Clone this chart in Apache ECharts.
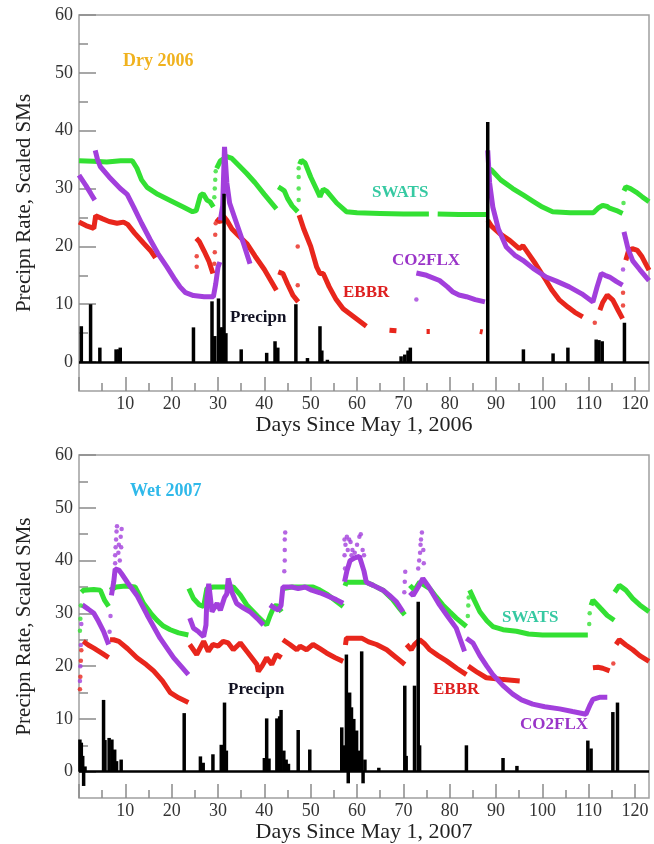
<!DOCTYPE html>
<html>
<head>
<meta charset="utf-8">
<script src="https://cdn.jsdelivr.net/npm/echarts/dist/echarts.min.js"></script>
<style>
html,body{margin:0;padding:0;background:#fff;}
#chart{width:654px;height:844px;}
</style>
</head>
<body>
<div id="chart"></div>
<script>
// ---------- tick labels ----------
const xMajorTicks = [0,10,20,30,40,50,60,70,80,90,100,110,120];
const xLabelTicks = [10,20,30,40,50,60,70,80,90,100,110,120];
const xMinorTicks = [5,15,25,35,45,55,65,75,85,95,105,115];
const yMajorTicks = [0,10,20,30,40,50,60];
const yMinorTicks = [5,15,25,35,45,55];

// ---------- Dry 2006 ----------
const drySWATS = [
  [[0,34.8],[3,34.7],[6,34.6],[9,34.8],[11.5,34.8],[12.5,33.5],[13.5,31.5],[14.7,30.2],[17,29.0],[20,27.8],[22.5,26.8],[24.5,26.0],[25.3,26.2],[26.2,28.8],[26.8,29.1],[27.6,28.0],[28.3,27.7],[29,26.8]],
  [[29.7,33.5],[30.5,34.8],[31.9,35.5],[33,35.2],[34.5,34],[36.2,32.6],[38,31],[40,29],[42.6,26.5]],
  [[43,30.3],[43.6,30.0],[44.3,29.6],[45,28.3],[46,27],[47.2,26.0]],
  [[47.6,34.2],[48.0,34.9],[48.8,34.4],[50,32],[51.3,29.8],[52,28.6],[52.7,29.9],[53.5,29.5],[55.6,27.5],[57.7,26.0],[60,25.8],[65,25.7],[70,25.6],[75.5,25.6]],
  [[77.4,25.6],[82,25.5],[88,25.5]],
  [[88.3,33.5],[89,33.2],[91,31.5],[93.6,30.0],[96,28.8],[98,27.8],[100,26.8],[102.2,26.0],[106,25.8],[111,25.8],[112,26.6],[113,27.1],[114,26.9],[114.5,26.6],[116,26.2],[117.3,25.7]],
  [[117.6,29.6],[118,30.3],[119,30.0],[120.2,29.4],[121.5,28.6],[123,27.7]]
];
const drySWATSDots = [[29.2,28.5],[29.3,30],[29.4,31.5],[29.5,33],[47.4,28],[47.4,30],[47.4,32],[47.4,33.5],[117.5,27.5]];

const dryEBBR = [
  [[0,24.2],[1.5,23.6],[3.2,23.1],[3.6,25.3],[5,24.8],[6.5,24.3],[8.2,24.0],[9.6,24.2],[10.5,23.8],[12,22.3],[14,20.5],[15.4,19.3],[16.5,18.0]],
  [[25.3,21.4],[26,20.8],[27,19.2],[28,17.5],[28.9,15.3]],
  [[29.6,24.8],[30.5,24.2],[31.2,25.2],[31.9,24.5],[33,23],[34.5,21.8],[36.2,20.5],[38,18.3],[40,16],[42.6,12.4]],
  [[43,15.6],[44,15.3],[45,13.5],[46.2,11.5],[47.3,10.4]],
  [[47.5,25.4],[48.5,23],[50,20],[51.3,16.4],[52,15.3],[52.7,15.3],[54,13],[55.5,10.8],[57,9.2],[59,8.0],[61,6.8],[62,6.2]],
  [[67,5.5],[68.5,5.4]],
  [[75,5.3],[75.7,5.3]],
  [[86.5,5.3],[87.1,5.2]],
  [[88.2,24.5],[89,23.5],[90.8,22.2],[93,21],[95,19.6],[95.8,20.1],[96.5,19.3],[98.5,17],[100.8,14.1],[102,12.5],[103.7,10.7],[105.5,9.5],[107,8.6],[108.7,7.8]],
  [[112.4,9.0],[113,10.3],[114,11.6],[115.2,10.7],[116.3,9],[117.3,7.5]],
  [[118,17.6],[118.6,19.3],[119.4,19.6],[120.5,19.3],[121.5,18.2],[123,15.9]]
];
const dryEBBRDots = [[25.4,18.3],[25.4,16.5],[29.2,17],[29.3,19],[29.4,22],[29.5,24],[47.2,13.3],[47.2,20.0],[111.3,6.8],[117.4,9.8],[117.4,12]];

const dryCO2 = [
  [[0,32.3],[1.5,30.5],[2.5,29.2],[3.4,28.0]],
  [[3.5,36.6],[4.0,35],[4.6,33.8],[6.5,32],[8.9,30.0],[10.4,29.0],[11.8,26.8],[13.5,24],[15.4,21.1],[17,18.8],[19,16.4],[20.5,14.5],[21.8,13.0],[23,12.0],[24.7,11.5],[27,11.3],[29,11.3],[29.5,13.5],[30,16.4],[30.4,17.3]],
  [[30.5,24.5],[31,27],[31.4,37.2],[31.9,31],[32.5,27.5],[34,24.0],[35.5,20.5],[36.9,17.0]],
  [[72.8,15.4],[75,15.0],[77.8,14.1],[79.5,13],[80.7,12.1],[82,11.6],[83.6,11.3],[85.5,10.8],[87.6,10.4]],
  [[88.2,36.6],[88.6,31],[89.3,26.8],[90.5,23],[92.2,19.9],[94,18.5],[95.8,17.6],[98,16.2],[100.8,14.7],[103,14],[105.8,13.0],[108.5,11.8],[110.9,10.4],[111.8,13],[112.7,15.3],[113.5,15],[114.5,14.7],[116,13.9],[117.3,13.3]],
  [[117.6,22.5],[118.5,19.5],[119.5,17.5],[121,16],[123,14.1]]
];
const dryCO2Dots = [[72.8,10.8],[117.4,16]];

const dryPrecip = [[0.5,6.2],[2.5,10],[4.5,2.5],[8,2.2],[8.6,2.2],[8.9,2.5],[24.7,6.0],[28.7,10.5],[29.3,4.5],[30.1,11],[30.6,6],[30.9,6],[31.3,29.1],[31.7,5],[35,2.2],[40.5,1.6],[42.3,3.6],[42.9,2.5],[46.8,10.0],[49.3,0.7],[52,6.2],[52.4,2],[53.6,0.4],[69.5,1.0],[70.3,1.3],[71,2.0],[71.5,2.5],[88.2,41.5],[95.9,2.2],[102.3,1.5],[105.5,2.5],[111.6,3.9],[112.2,3.8],[112.9,3.6],[117.7,6.8]];

// ---------- Wet 2007 ----------
const wetSWATS = [
  [[0.5,34.0],[1,34.4],[3.2,34.5],[4.6,34.4],[5.5,32.5],[6.4,31.3]],
  [[6.7,34.4],[8,35],[10,35.2],[12.1,35.0],[13.0,33.5],[13.9,31.9],[15.5,30.0],[16.8,28.7],[18.2,27.6],[19.7,26.9],[21.5,26.3],[23.6,25.9]],
  [[23.7,34.7],[24.7,32.8],[26,31.6],[26.9,31.3],[27.6,34.7],[29,35],[31,35],[33.3,35.0],[34.8,33.5],[36.2,31.6],[38.5,29.5],[40.5,27.8],[41.2,29.5],[41.9,30.9],[42.6,31.6],[43.7,30.3]],
  [[44,34.7],[46,35],[48,35],[50.5,35.0],[52,34.4],[53.4,33.7],[55.5,32.3],[57,31.3]],
  [[57.4,35.2],[57.7,35.9],[60,35.9],[62,35.9],[63.5,35.3],[65.6,34.4],[67.5,32.8],[69.2,30.9],[70.3,29.7]],
  [[71.4,35.3],[72.4,34.4],[73.5,35.9],[75.7,34.7],[77,33.2],[78.5,31.6],[80,30.3],[81.4,29.1],[83.6,27.5]],
  [[84.3,34.4],[85.3,32.5],[86.5,30.3],[88,28.6],[89.3,27.5],[91.5,26.9],[94.4,26.6],[97,26.1],[100,25.9],[105,25.9],[109.8,25.9]],
  [[110.5,31.5],[110.9,32.5],[112.5,31],[114,29.6],[115.5,28.7]],
  [[115.6,34.0],[116.6,35.3],[118,34.4],[119.5,32.8],[121,31.6],[123,30.3]]
];
const wetSWATSDots = [[0.2,26.7],[0.3,29],[0.4,31.5],[83.9,29.5],[84,31.5],[84.1,33],[110.1,28],[110.2,30]];

const wetEBBR = [
  [[0.9,24.7],[2,24],[3.2,23.4],[5,22.4],[6.4,21.6]],
  [[6.7,25.0],[7.5,25],[8.6,24.7],[10.5,23.3],[12.5,21.6],[14.5,20.3],[16.1,19.1],[18,17.2],[19.7,15.0],[21.5,14],[23.6,13.1]],
  [[23.9,24.1],[25.4,22.2],[26.9,24.7],[27.9,22.8],[28.9,24.1],[30,23.8],[31.1,24.7],[32.2,24.4],[33.3,23.1],[34.8,24.4],[36.5,22.5],[38.4,20.3],[38.7,19.0],[39.5,20],[40.5,21.6],[41.6,20.3],[42.6,22.2],[43.7,21.6]],
  [[44,25.0],[45.5,24.1],[47,23.1],[47.7,23.8],[49.1,23.1],[50.5,24.1],[52,23.3],[53.4,22.5],[55.3,21.6],[57,20.9]],
  [[57.5,24],[57.7,25.3],[59,25.3],[61,25.3],[62.5,24.6],[64.2,24.1],[66.4,23.1],[68.5,21.6],[70.3,20.3]],
  [[70.7,24.1],[71.7,23.1],[72.4,24.1],[73.5,25.0],[74.5,24.3],[75.7,23.1],[77.5,22],[79.3,21.0],[81.5,19.6],[83.6,18.4]],
  [[84.0,20.0],[86,18.8],[87.9,17.8],[91,17.5],[95.1,17.2]],
  [[110.9,19.7],[112,19.8],[113,19.6],[114.5,19.1]],
  [[115.9,24.1],[116.6,25.0],[118,24.0],[119.5,23.1],[121,22],[123,20.9]]
];
const wetEBBRDots = [[0.2,15.6],[0.3,18],[0.4,21],[0.5,23],[115.3,20.5]];

const wetCO2 = [
  [[0.7,31.6],[2,30.8],[3.2,30.0],[4.2,28.5],[5.3,26.6],[6.4,24.1]],
  [[7.0,33.4],[7.5,36],[7.8,38.4],[8.6,38.2],[9.2,37.5],[10.5,35.8],[12.5,33.4],[14.7,29.7],[17.5,25.3],[20.4,21.6],[22,20],[23.6,18.4]],
  [[23.9,29.1],[24.7,27.2],[25.8,26.5],[26.9,25.6],[27.4,27.8],[27.6,33],[28,35.6],[28.7,30.3],[29.8,31.9],[30.5,30.6],[31.4,33],[31.9,33.7],[32.2,36.6],[33,34],[34,31.9],[35.5,31],[36.9,30.3],[38.5,29],[39.8,27.8]],
  [[41.2,31.6],[42.2,31],[43,30.6],[43.6,31.5],[44,35.0],[45.9,35.0],[47.3,34.7],[48.8,35],[50.2,34.4],[52,33.9],[53.4,33.4],[55.5,32.6],[57,31.9]],
  [[57.3,36],[57.8,38],[58.5,40],[59.5,40.5],[60.5,40.8],[61.5,38],[62,35.9],[63.5,35.3],[65.6,34.4],[67,33.4],[68.5,32.2],[69.9,30.3]],
  [[71.4,34],[72.1,33.4],[73.2,35],[74.2,36.6],[75.5,35],[77.8,31.6],[79.5,29.5],[81.4,27.2],[82.3,25],[83.2,22.8]],
  [[83.6,25.3],[85,24.4],[86.5,22],[88,20],[89.3,18.4],[91.5,16.3],[93.6,14.7],[95.5,13.6],[97.9,12.8],[100.5,12.3],[103.7,11.9],[106.5,11.4],[109.4,10.9],[110.2,12.5],[110.9,13.7],[112.3,14.1],[114,14.1]]
];
const wetCO2Dots = [[0.2,17.2],[0.3,20],[0.4,24],[0.5,28],[6.6,26.5],[6.8,29.5],
  [7.8,39.5],[7.8,41],[7.9,42.5],[8.0,44],[8.1,45.5],[8.2,46.5],[8.5,41.5],[8.6,43],[8.8,40],[9.0,44.5],[9.1,42.5],[9.2,46],
  [44.3,38],[44.4,40],[44.4,42],[44.4,44],[44.5,45.3],
  [57.3,44],[57.3,41],[57.4,38.5],[57.5,43],[57.8,44.5],[58,42],[58.3,44],[58.6,43.5],[58.8,41],[59,42],[59.5,41.5],[60,43],[60.5,44.5],[60.8,45],[61.2,42],[61.5,41],
  [70.2,34],[70.3,36],[70.4,37.9],
  [73.2,38.5],[73.4,40],[73.6,41.5],[73.7,43],[73.8,44],[74,45.3],[74.3,42],[74.4,39.5]];

const wetPrecip = [[0.2,6.1],[0.5,5.5],[0.8,3],[1.0,-2.7],[1.3,1],[5.3,13.6],[5.6,6],[6.5,6.4],[7.1,6.1],[7.7,4.2],[8.1,2],[9.1,2.3],[22.7,11.1],[26.2,2.9],[26.8,1.7],[28.9,3.3],[30.7,5.1],[31.4,13.1],[31.8,4],[40.0,2.6],[40.5,10.1],[41.0,2.5],[42.7,10.1],[43.3,10.5],[43.6,11.7],[44.2,4],[44.7,2.3],[45.2,1.5],[47.3,7.9],[49.8,4.2],
  [56.7,8.4],[57.1,5],[57.7,22.2],[58.1,-2.2],[58.4,15],[58.8,12.2],[59.3,10],[59.9,7.8],[60.4,4],[61,22.8],[61.3,-2.2],[61.7,2.3],
  [64.7,0.75],[70.3,16.3],[70.6,3],[72.4,16.3],[73.2,32.2],[73.5,5],[83.6,5.0],[91.5,2.6],[94.5,1.1],[109.8,5.9],[110.5,4.4],[115.2,11.3],[116.2,13.1]];

// ---------- build ----------
const C_SWATS = '#33e033', C_EBBR = '#e8261c', C_CO2 = '#a23fdc';
const SERIF = '"Liberation Serif","DejaVu Serif",serif';

function joinSegs(segs){
  const out = [];
  segs.forEach((s, i) => {
    if (i > 0) out.push([ (segs[i-1][segs[i-1].length-1][0] + s[0][0]) / 2, null ]);
    s.forEach(p => out.push(p));
  });
  return out;
}

const grids = [
  {left: 79, right: 5, top: 15, height: 376},
  {left: 79, right: 5, top: 455, height: 347}
];

function xAxes(g, name){
  return [
    {gridIndex: g, type: 'value', min: 0, max: 123, position: 'bottom',
     name: name, nameLocation: 'middle', nameGap: 20,
     nameTextStyle: {fontFamily: SERIF, fontSize: 22, color: '#222'},
     axisLine: {show: false, onZero: false},
     splitLine: {show: false},
     axisTick: {show: true, inside: true, length: 14, customValues: xMajorTicks, lineStyle: {color: '#8a8a8a', width: 1.5}},
     axisLabel: {customValues: xLabelTicks, fontFamily: SERIF, fontSize: 18, color: '#333', margin: 4}},
    {gridIndex: g, type: 'value', min: 0, max: 123, position: 'bottom',
     axisLine: {show: false, onZero: false},
     splitLine: {show: false},
     axisTick: {show: true, inside: true, length: 8, customValues: xMinorTicks, lineStyle: {color: '#8a8a8a', width: 1.5}},
     axisLabel: {show: false}}
  ];
}
function yAxes(g){
  return [
    {gridIndex: g, type: 'value', min: -5, max: 60, position: 'left',
     name: 'Precipn Rate, Scaled SMs', nameLocation: 'middle', nameGap: 44,
     nameTextStyle: {fontFamily: SERIF, fontSize: 21, color: '#222'},
     axisLine: {show: false, onZero: false},
     splitLine: {show: false},
     axisTick: {show: true, inside: true, length: 17, customValues: yMajorTicks, lineStyle: {color: '#8a8a8a', width: 1.5}},
     axisLabel: {customValues: yMajorTicks, fontFamily: SERIF, fontSize: 18, color: '#333', margin: 6}},
    {gridIndex: g, type: 'value', min: -5, max: 60, position: 'left',
     axisLine: {show: false, onZero: false},
     splitLine: {show: false},
     axisTick: {show: true, inside: true, length: 9, customValues: yMinorTicks, lineStyle: {color: '#8a8a8a', width: 1.5}},
     axisLabel: {show: false}}
  ];
}

function lineSeries(xi, yi, segs, color){
  return {type: 'line', xAxisIndex: xi, yAxisIndex: yi, data: joinSegs(segs), showSymbol: false,
          connectNulls: false, lineStyle: {color: color, width: 5}, itemStyle: {color: color}, silent: true, z: 3};
}
function dotSeries(xi, yi, pts, color){
  return {type: 'scatter', xAxisIndex: xi, yAxisIndex: yi, data: pts, symbolSize: 4.5,
          itemStyle: {color: color}, silent: true, z: 3};
}
function precipSeries(xi, yi, pts){
  return {type: 'bar', xAxisIndex: xi, yAxisIndex: yi, data: pts, barWidth: 3.5,
          itemStyle: {color: '#000'}, silent: true, z: 4,
          markLine: {silent: true, symbol: ['none','none'], label: {show: false},
                     lineStyle: {color: '#000', width: 2.5, type: 'solid'}, data: [{yAxis: 0}]}};
}

const series = [
  lineSeries(0, 0, drySWATS, C_SWATS), dotSeries(0, 0, drySWATSDots, C_SWATS),
  lineSeries(0, 0, dryEBBR, C_EBBR), dotSeries(0, 0, dryEBBRDots, C_EBBR),
  lineSeries(0, 0, dryCO2, C_CO2), dotSeries(0, 0, dryCO2Dots, C_CO2),
  precipSeries(0, 0, dryPrecip),
  lineSeries(2, 2, wetSWATS, C_SWATS), dotSeries(2, 2, wetSWATSDots, C_SWATS),
  lineSeries(2, 2, wetEBBR, C_EBBR), dotSeries(2, 2, wetEBBRDots, C_EBBR),
  lineSeries(2, 2, wetCO2, C_CO2), dotSeries(2, 2, wetCO2Dots, C_CO2),
  precipSeries(2, 2, wetPrecip)
];

function txt(t, x, y, color, size){
  return {type: 'text', left: x, top: y, z: 10, silent: true,
          style: {text: t, fill: color, font: 'bold ' + size + 'px ' + SERIF}};
}

const option = {
  animation: false,
  backgroundColor: '#fff',
  grid: grids.map(g => Object.assign({show: true, borderColor: '#a0a0a0', borderWidth: 1.5, backgroundColor: 'transparent', containLabel: false}, g)),
  xAxis: [...xAxes(0, 'Days Since May 1, 2006'), ...xAxes(1, 'Days Since May 1, 2007')],
  yAxis: [...yAxes(0), ...yAxes(1)],
  series: series,
  graphic: [
    txt('Dry 2006', 123, 52, '#f0b21e', 18),
    txt('SWATS', 372, 184, '#36c9a2', 17),
    txt('CO2FLX', 392, 252, '#9a34c8', 17),
    txt('EBBR', 343, 284, '#de2020', 17),
    txt('Precipn', 230, 309, '#111122', 17),
    txt('Wet 2007', 130, 482, '#2fb9ea', 18),
    txt('SWATS', 502, 609, '#36c9a2', 17),
    txt('EBBR', 433, 681, '#de2020', 17),
    txt('CO2FLX', 520, 716, '#9a34c8', 17),
    txt('Precipn', 228, 681, '#111122', 17)
  ]
};

const chart = echarts.init(document.getElementById('chart'), null, {renderer: 'canvas'});
chart.setOption(option);
</script>
</body>
</html>
